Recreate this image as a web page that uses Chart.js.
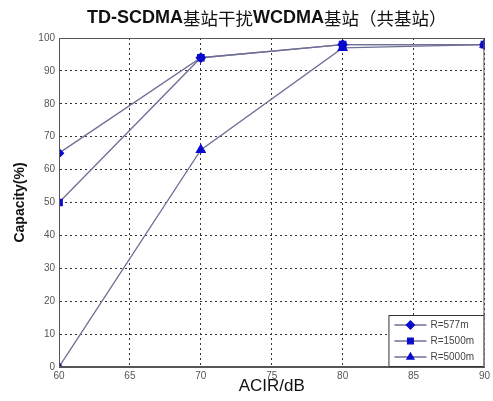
<!DOCTYPE html>
<html>
<head>
<meta charset="utf-8">
<script src="https://cdn.jsdelivr.net/npm/chart.js@4/dist/chart.umd.min.js"></script>
<style>
  html, body { margin: 0; padding: 0; background: #fff; }
  #wrap { width: 493px; height: 401px; }
</style>
</head>
<body>
<div id="wrap"><canvas id="myChart" width="493" height="401"></canvas></div>
<script>
const tituloGrafica = "TD-SCDMA基站干扰WCDMA基站（共基站）";
const acir = [60, 70, 80, 90];
const capacidad577 = [65, 94, 98, 98];
const capacidad1500 = [50, 94, 98, 98];
const capacidad5000 = [0, 66, 97, 98];
const nombresSeries = ["R=577m", "R=1500m", "R=5000m"];
const estilosPunto = ["rectRot", "rect", "triangle"];
const ticksX = [60, 65, 70, 75, 80, 85, 90];
const ticksY = [0, 10, 20, 30, 40, 50, 60, 70, 80, 90, 100];

const colorLinea = "rgb(112,112,150)";
const colorPunto = "rgb(10,10,205)";

function armarSerie(valores, i) {
    return {
        label: nombresSeries[i],
        data: acir.map((x, j) => ({ x: x, y: valores[j] })),
        borderColor: colorLinea,
        backgroundColor: colorPunto,
        pointBorderColor: colorPunto,
        pointBackgroundColor: colorPunto,
        pointStyle: estilosPunto[i],
        pointRadius: i === 2 ? 5 : 4.5,
        borderWidth: 1.3,
        tension: 0
    };
}

// titulo: latin en negrita, caracteres chinos normales
function dibujarTitulo(ctx, texto, cx, cy) {
    const partes = texto.match(/[A-Za-z0-9\-]+|[^A-Za-z0-9\-]+/g);
    const fuente = p => /[A-Za-z]/.test(p)
        ? "bold 18px 'Liberation Sans', Arial, sans-serif"
        : "17.5px 'Noto Sans CJK SC', sans-serif";
    let total = 0;
    partes.forEach(p => { ctx.font = fuente(p); total += ctx.measureText(p).width; });
    let x = cx - total / 2;
    ctx.textAlign = "left";
    ctx.textBaseline = "middle";
    partes.forEach(p => {
        ctx.font = fuente(p);
        ctx.fillText(p, x, cy);
        x += ctx.measureText(p).width;
    });
}

// marco, titulo y leyenda dibujados a mano (leyenda dentro del area)
const extras = {
    id: "extras",
    afterDraw(chart) {
        const ctx = chart.ctx;
        const area = chart.chartArea;
        ctx.save();
        ctx.strokeStyle = "#555";
        ctx.lineWidth = 1;
        ctx.strokeRect(area.left + 0.5, area.top + 0.5, area.right - area.left - 1, area.bottom - area.top - 1);
        ctx.fillStyle = "#111";
        dibujarTitulo(ctx, tituloGrafica, (area.left + area.right) / 2 - 5, 18);
        // leyenda
        const w = 96, h = 52;
        const x0 = area.right - w, y0 = area.bottom - h;
        ctx.fillStyle = "#fff";
        ctx.fillRect(x0, y0, w, h);
        ctx.strokeStyle = "#333";
        ctx.strokeRect(x0 + 0.5, y0 + 0.5, w - 1, h - 1);
        ctx.font = "10px 'Liberation Sans Narrow', 'Liberation Sans', Arial, sans-serif";
        ctx.textAlign = "left";
        ctx.textBaseline = "middle";
        chart.data.datasets.forEach((ds, i) => {
            const y = y0 + 10 + i * 16;
            ctx.strokeStyle = colorLinea;
            ctx.lineWidth = 1.3;
            ctx.beginPath();
            ctx.moveTo(x0 + 6, y);
            ctx.lineTo(x0 + 38, y);
            ctx.stroke();
            ctx.fillStyle = colorPunto;
            ctx.strokeStyle = colorPunto;
            Chart.helpers.drawPoint(ctx, { pointStyle: ds.pointStyle, radius: 4, rotation: 0, borderWidth: 1 }, x0 + 22, y);
            ctx.fillStyle = "#444";
            ctx.fillText(ds.label, x0 + 42, y);
        });
        ctx.restore();
    }
};

const grilla = {
    color: "#333",
    lineWidth: 1,
    drawTicks: false
};

const config = {
    type: "line",
    data: {
        datasets: [
            armarSerie(capacidad577, 0),
            armarSerie(capacidad1500, 1),
            armarSerie(capacidad5000, 2)
        ]
    },
    options: {
        responsive: false,
        animation: false,
        layout: { padding: { top: 38, right: 4, left: 0, bottom: 0 } },
        plugins: { legend: { display: false }, title: { display: false }, tooltip: { enabled: false } },
        scales: {
            x: {
                type: "linear",
                min: 60,
                max: 90,
                afterFit: s => { s.height = 34; },
                afterBuildTicks: s => { s.ticks = ticksX.map(v => ({ value: v })); },
                grid: grilla,
                border: { display: true, color: "#555", dash: [2, 3] },
                ticks: { color: "#555", font: { size: 10, family: "'Liberation Sans', Arial" }, padding: 3, maxRotation: 0 },
                title: { display: true, text: "ACIR/dB", color: "#111", font: { size: 17, family: "'Liberation Sans', Arial" }, padding: { top: 0, bottom: 4 } }
            },
            y: {
                min: 0,
                max: 100,
                afterFit: s => { s.width = 59; },
                afterBuildTicks: s => { s.ticks = ticksY.map(v => ({ value: v })); },
                grid: grilla,
                border: { display: true, color: "#555", dash: [2, 3] },
                ticks: { color: "#555", font: { size: 10, family: "'Liberation Sans', Arial" }, padding: 4 },
                title: { display: true, text: "Capacity(%)", color: "#111", font: { size: 14, weight: "bold", family: "'Liberation Sans', Arial" }, padding: { top: 12, bottom: 0 } }
            }
        }
    },
    plugins: [extras]
};

const myChart = document.getElementById("myChart");
new Chart(myChart, config);
</script>
</body>
</html>
